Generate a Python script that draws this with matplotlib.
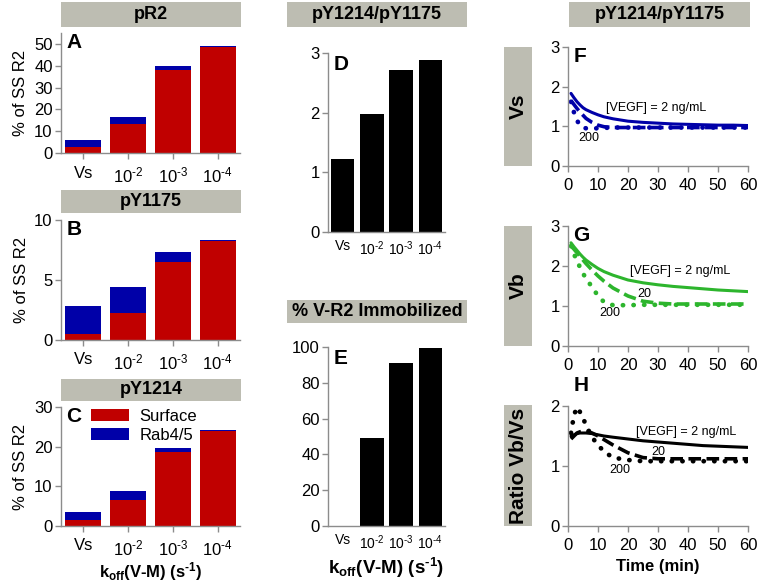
import numpy as np
import matplotlib
matplotlib.use('Agg')
import matplotlib.pyplot as plt
from matplotlib.patches import Rectangle

# ------------------------------------------------------------------ #
# data
# ------------------------------------------------------------------ #
categories = ['Vs', '10$^{‐2}$', '10$^{‐3}$', '10$^{‐4}$']

pR2_surface = [2.6, 13.1, 38.2, 48.8]
pR2_rab = [3.2, 3.2, 1.6, 0.4]
pY1175_surface = [0.5, 2.23, 6.48, 8.21]
pY1175_rab = [2.35, 2.21, 0.84, 0.14]
pY1214_surface = [1.4, 6.5, 18.6, 24.0]
pY1214_rab = [2.2, 2.2, 1.1, 0.2]

ratio_pY = [1.23, 1.97, 2.71, 2.89]
immobilized = [0, 49.4, 91.3, 99.4]

time_min = [1, 2, 3, 4, 5, 6, 8, 10, 12, 15, 20, 25, 30, 35, 40, 45, 50, 55, 60]
vs_2 = [1.83, 1.72, 1.62, 1.54, 1.47, 1.42, 1.35, 1.29, 1.24, 1.19, 1.13, 1.10,
        1.08, 1.06, 1.05, 1.04, 1.03, 1.03, 1.02]
vs_20 = [1.65, 1.55, 1.45, 1.36, 1.28, 1.20, 1.10, 1.03, 0.99, 0.97, 0.97, 0.97,
         0.97, 0.97, 0.97, 0.97, 0.97, 0.97, 0.97]
vs_200 = [1.62, 1.35, 1.15, 1.02, 0.97, 0.95, 0.95, 0.95, 0.96, 0.97, 0.97, 0.97,
          0.97, 0.97, 0.97, 0.97, 0.97, 0.97, 0.97]
vb_2 = [2.58, 2.48, 2.39, 2.30, 2.22, 2.15, 2.04, 1.94, 1.86, 1.77, 1.65, 1.58,
        1.53, 1.49, 1.46, 1.43, 1.40, 1.38, 1.36]
vb_20 = [2.50, 2.42, 2.33, 2.24, 2.15, 2.06, 1.90, 1.75, 1.62, 1.45, 1.25, 1.12,
         1.07, 1.05, 1.05, 1.05, 1.05, 1.05, 1.05]
vb_200 = [2.50, 2.30, 2.12, 1.97, 1.82, 1.68, 1.48, 1.25, 1.10, 1.02, 1.02, 1.03,
          1.03, 1.03, 1.03, 1.03, 1.03, 1.03, 1.03]
ratio_2 = [1.50, 1.52, 1.54, 1.55, 1.55, 1.55, 1.54, 1.52, 1.50, 1.48, 1.45, 1.42,
           1.40, 1.38, 1.36, 1.34, 1.33, 1.32, 1.31]
ratio_20 = [1.45, 1.50, 1.55, 1.57, 1.58, 1.58, 1.55, 1.50, 1.44, 1.35, 1.22, 1.14,
            1.12, 1.12, 1.12, 1.12, 1.12, 1.12, 1.12]
ratio_200 = [1.55, 1.85, 1.98, 1.90, 1.80, 1.68, 1.48, 1.35, 1.24, 1.14, 1.10, 1.08,
             1.08, 1.08, 1.08, 1.08, 1.08, 1.08, 1.08]

# ------------------------------------------------------------------ #
# style
# ------------------------------------------------------------------ #
plt.rcParams['font.family'] = ['Liberation Sans', 'DejaVu Sans']
plt.rcParams['mathtext.fontset'] = 'custom'
plt.rcParams['mathtext.rm'] = 'Liberation Sans'
plt.rcParams['mathtext.it'] = 'Liberation Sans:italic'
plt.rcParams['mathtext.bf'] = 'Liberation Sans:bold'

RED = '#c00000'
BLUE = '#0000a8'
GREY_BOX = '#bdbdb2'
SPINE = '#8c8c8c'
W, H = 759, 585

fig = plt.figure(figsize=(7.59, 5.85), dpi=100)


def px_axes(x0, y0, x1, y1):
    return fig.add_axes([x0 / W, 1 - y1 / H, (x1 - x0) / W, (y1 - y0) / H])


def header(x0, y0, x1, y1, txt, size=13, rot=0):
    fig.add_artist(Rectangle((x0 / W, 1 - y1 / H), (x1 - x0) / W, (y1 - y0) / H,
                             transform=fig.transFigure, color=GREY_BOX, lw=0))
    fig.text((x0 + x1) / 2 / W, 1 - (y0 + y1) / 2 / H, txt, ha='center',
             va='center', fontsize=size, fontweight='bold', rotation=rot)


def style_axes(ax, fs=12):
    for s in ['top', 'right']:
        ax.spines[s].set_visible(False)
    for s in ['left', 'bottom']:
        ax.spines[s].set_color(SPINE)
        ax.spines[s].set_linewidth(1.0)
    ax.tick_params(direction='out', length=4, width=1, color=SPINE,
                   labelsize=fs, pad=2)


def stacked(ax, surf, rab, ymax, yticks, letter):
    x = np.arange(len(categories))
    ax.bar(x, surf, width=0.8, color=RED, label='Surface')
    ax.bar(x, rab, width=0.8, bottom=surf, color=BLUE, label='Rab4/5')
    ax.set_xlim(-0.5, 3.5)
    ax.set_ylim(0, ymax)
    ax.set_yticks(yticks)
    ax.set_xticks(x)
    ax.set_xticklabels(categories)
    style_axes(ax)
    ax.tick_params(axis='x', pad=5)
    ax.set_ylabel('% of SS R2', fontsize=12, labelpad=4)
    ax.text(0.03, 1.0, letter, transform=ax.transAxes, fontsize=15,
            fontweight='bold', va='top', ha='left')


# ---------------------------- left column --------------------------- #
header(61, 2, 241, 27, 'pR2')
axA = px_axes(61, 33, 240, 153)
stacked(axA, pR2_surface, pR2_rab, 55, [0, 10, 20, 30, 40, 50], 'A')

header(61, 190, 241, 213, 'pY1175')
axB = px_axes(61, 220, 240, 340)
stacked(axB, pY1175_surface, pY1175_rab, 10, [0, 5, 10], 'B')

header(61, 379, 241, 401, 'pY1214')
axC = px_axes(61, 407, 240, 526)
stacked(axC, pY1214_surface, pY1214_rab, 30, [0, 10, 20, 30], 'C')
axC.legend(loc='upper left', bbox_to_anchor=(0.13, 1.04), frameon=False,
           fontsize=12, handlelength=2.3, handleheight=0.7, handletextpad=0.6,
           labelspacing=0.25, borderaxespad=0)
axC.set_xlabel(r'$\mathbf{k_{off}}$(V-M) (s$^{\mathbf{‐1}}$)', fontsize=12,
               fontweight='bold', labelpad=1)

# ---------------------------- middle column --------------------------- #
header(287, 2, 467, 27, 'pY1214/pY1175')
axD = px_axes(328, 53, 445, 232)
xd = np.arange(len(categories))
axD.bar(xd, ratio_pY, width=0.8, color='black')
axD.set_xlim(-0.5, 3.5)
axD.set_ylim(0, 3)
axD.set_yticks([0, 1, 2, 3])
axD.set_xticks(xd)
axD.set_xticklabels(categories)
style_axes(axD)
axD.tick_params(axis='x', length=0, labelsize=10, pad=5)
axD.text(0.05, 0.99, 'D', transform=axD.transAxes, fontsize=15,
         fontweight='bold', va='top', ha='left')

header(287, 300, 467, 323, '% V-R2 Immobilized')
axE = px_axes(328, 347, 445, 526)
axE.bar(xd, immobilized, width=0.8, color='black')
axE.set_xlim(-0.5, 3.5)
axE.set_ylim(0, 100)
axE.set_yticks([0, 20, 40, 60, 80, 100])
axE.set_xticks(xd)
axE.set_xticklabels(categories)
style_axes(axE)
axE.tick_params(axis='x', length=0, labelsize=10, pad=5)
axE.text(0.05, 0.99, 'E', transform=axE.transAxes, fontsize=15,
         fontweight='bold', va='top', ha='left')
axE.set_xlabel(r'$\mathbf{k_{off}}$(V-M) (s$^{\mathbf{‐1}}$)', fontsize=13.5,
               fontweight='bold', labelpad=3)

# ---------------------------- right column --------------------------- #
header(569, 2, 750, 27, 'pY1214/pY1175')


def time_panel(y0, y1, ymax, yticks, c2, c20, c200, color, letter,
               lab2, lab20, lab200, inside=True):
    ax = px_axes(568, y0, 748, y1)
    ax.plot(time_min, c2, color=color, lw=2.2, solid_capstyle='round')
    ax.plot(time_min, c20, color=color, lw=2.6, linestyle=(0, (3.5, 1.5)))
    ax.plot(time_min, c200, color=color, lw=3.4, linestyle=(0, (0.05, 2.2)),
            dash_capstyle='round')
    ax.set_xlim(0, 60)
    ax.set_ylim(0, ymax)
    ax.set_xticks([0, 10, 20, 30, 40, 50, 60])
    ax.set_yticks(yticks)
    style_axes(ax)
    ax.tick_params(axis='x', pad=5)
    if inside:
        ax.text(0.03, 1.0, letter, transform=ax.transAxes, fontsize=15,
                fontweight='bold', va='top', ha='left')
    else:
        ax.text(0.03, 1.09, letter, transform=ax.transAxes, fontsize=15,
                fontweight='bold', va='bottom', ha='left')
    ax.text(lab2[0], lab2[1], '[VEGF] = 2 ng/mL', fontsize=9, va='center')
    if lab20 is not None:
        ax.text(lab20[0], lab20[1], '20', fontsize=9, va='center')
    ax.text(lab200[0], lab200[1], '200', fontsize=9, va='center')
    return ax


header(504, 47, 532, 166, 'Vs', size=15, rot=90)
axF = time_panel(47, 166, 3, [0, 1, 2, 3], vs_2, vs_20, vs_200, BLUE, 'F',
                 (12.8, 1.45), None, (3.3, 0.71))

header(504, 226, 532, 346, 'Vb', size=15, rot=90)
axG = time_panel(226, 346, 3, [0, 1, 2, 3], vb_2, vb_20, vb_200, '#2db52d', 'G',
                 (20.5, 1.88), (23.0, 1.3), (10.5, 0.83))

header(504, 405, 532, 526, 'Ratio Vb/Vs', size=15, rot=90)
axH = time_panel(406, 526, 2, [0, 1, 2], ratio_2, ratio_20, ratio_200, 'black', 'H',
                 (22.8, 1.57), (27.8, 1.24), (13.9, 0.93), inside=False)
axH.set_xlabel('Time (min)', fontsize=12, fontweight='bold', labelpad=4)

plt.savefig('out.png', dpi=100)
